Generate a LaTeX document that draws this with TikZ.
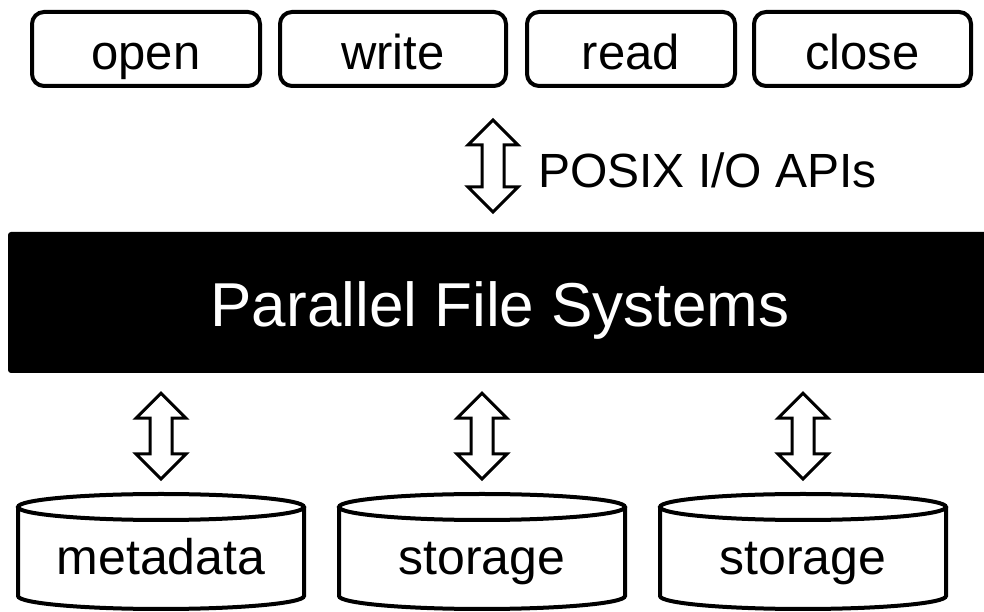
\documentclass[tikz,border=0pt]{standalone}
\usepackage{fontspec}
\setmainfont{Liberation Sans}
\usetikzlibrary{calc}

\tikzset{
  apibox/.style={draw, line width=4pt, rounded corners=12pt, minimum height=74pt,
    inner sep=0pt, font=\fontsize{49}{55}\selectfont, text height=46pt, text depth=4pt},
  fsbox/.style={fill=black, rounded corners=3pt, minimum width=984pt, minimum height=141pt,
    inner sep=0pt, text=white, font=\fontsize{62}{70}\selectfont, text height=55pt, text depth=6pt},
  cylbody/.style={minimum width=286pt, minimum height=89pt, inner sep=0pt, outer sep=0pt,
    font=\fontsize{50}{56}\selectfont, text height=52pt, text depth=5pt},
  cylline/.style={line width=4pt},
  dblarrow/.style={draw, fill=white, line width=3pt, line join=miter},
  apilabel/.style={anchor=west, inner sep=0pt, font=\fontsize{48}{54}\selectfont}
}

% hollow two-headed arrow between two tip points (top tip, bottom tip)
\newcommand\updown[2]{%
  \draw[dblarrow] (#1) -- ++(-25pt,-25pt) -- ++(14pt,0) -- ($(#2)+(-11pt,25pt)$)
    -- ++(-14pt,0) -- (#2) -- ++(25pt,25pt) -- ++(-14pt,0) -- ($(#1)+(11pt,-25pt)$)
    -- ++(14pt,0) -- cycle;}

% database cylinder drawn around an invisible body node
\newcommand\cylinderaround[1]{%
  \draw[cylline] (#1.north west) -- (#1.south west)
    arc[start angle=180, end angle=360, x radius=143pt, y radius=13pt] -- (#1.north east);
  \draw[cylline] (#1.north) ellipse [x radius=143pt, y radius=13pt];}

\begin{document}
\begin{tikzpicture}[x=1pt, y=1pt]
  \useasboundingbox (0,0) rectangle (984,612);

  % POSIX calls
  \node[apibox, minimum width=228pt] (open)  at (146,563)   {open};
  \node[apibox, minimum width=226pt] (write) at (393,563)   {write};
  \node[apibox, minimum width=208pt] (read)  at (631,563)   {read};
  \node[apibox, minimum width=217pt] (close) at (862.5,563) {close};

  % file system layer
  \node[fsbox] (fs) at (500,309.5) {Parallel File Systems};

  % storage back ends
  \node[cylbody] (meta) at (161,60.5) {metadata};
  \node[cylbody] (st1)  at (482,60.5) {storage};
  \node[cylbody] (st2)  at (803,60.5) {storage};
  \cylinderaround{meta}
  \cylinderaround{st1}
  \cylinderaround{st2}

  % API arrow
  \coordinate (apiTop) at (493,492);
  \coordinate (apiBot) at (493,400);
  \updown{apiTop}{apiBot}
  \node[apilabel] (posix) at (538,442) {POSIX I/O APIs};

  % file system to back ends
  \foreach \n in {meta,st1,st2}{
    \updown{$(fs.south -| \n.north)+(0,-20pt)$}{$(\n.north)+(0,28pt)$}
  }
\end{tikzpicture}
\end{document}
